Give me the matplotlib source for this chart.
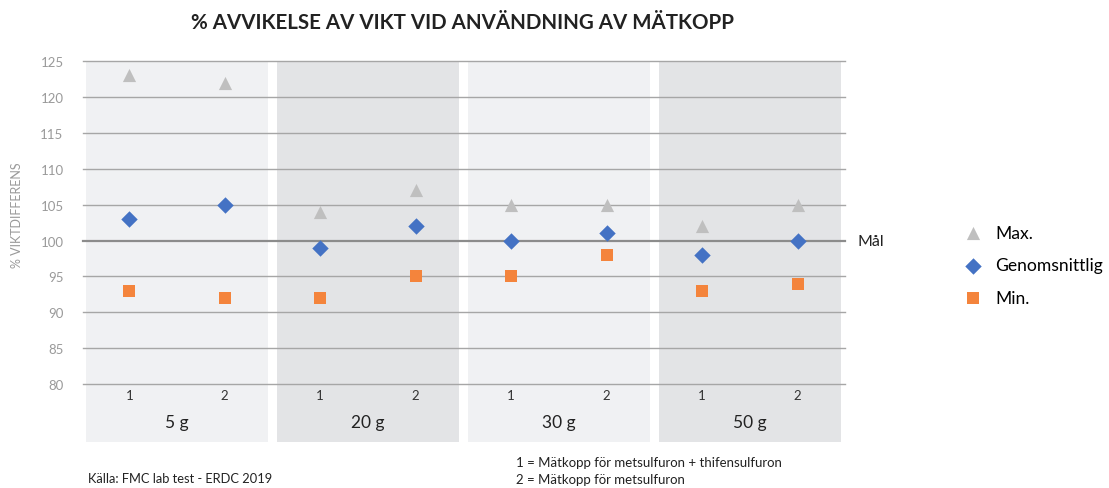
import matplotlib.pyplot as plt

groups = ['5 g', '20 g', '30 g', '50 g']
cups = ['1', '2']
max_vals = [123, 122, 104, 107, 105, 105, 102, 105]
avg_vals = [103, 105, 99, 102, 100, 101, 98, 100]
min_vals = [93, 92, 92, 95, 95, 98, 93, 94]
yticks = [80, 85, 90, 95, 100, 105, 110, 115, 120, 125]
target = 100

plt.rcParams['font.family'] = ['Lato', 'DejaVu Sans']

fig = plt.figure(figsize=(11.09, 4.89), dpi=100)
ax = fig.add_axes([0.0748, 0.0941, 0.687, 0.7791])

panel_w = 0.953
xs = []
for i, g in enumerate(groups):
    col = '#f0f1f3' if i % 2 == 0 else '#e3e4e6'
    ax.axvspan(i, i + panel_w, color=col, zorder=0, lw=0)
    c = i + panel_w / 2
    xs += [c - 0.25, c + 0.25]
    ax.text(c, 74.7, g, ha='center', va='center', fontsize=12.5, color='#222222')

for x, lab in zip(xs, cups * len(groups)):
    ax.text(x, 78.5, lab, ha='center', va='center', fontsize=9.5, color='#333333')

for y in yticks:
    if y == target:
        ax.axhline(y, color='#8c8c8c', lw=1.6, zorder=1, clip_on=False)
    else:
        ax.axhline(y, color='#a6a6a6', lw=1.0, zorder=1, clip_on=False)

ax.scatter(xs, max_vals, marker='^', s=90, color='#bfbfbf', zorder=3, label='Max.', linewidths=0)
ax.scatter(xs, avg_vals, marker='D', s=70, color='#4472c4', zorder=3, label='Genomsnittlig', linewidths=0)
ax.scatter(xs, min_vals, marker='s', s=75, color='#f4843c', zorder=3, label='Min.', linewidths=0)

ax.set_xlim(-0.016, 3.974)
ax.set_ylim(71.94, 125)
ax.set_yticks(yticks)
ax.set_xticks([])
ax.tick_params(axis='y', length=0, labelsize=9.5, labelcolor='#9a9a9a', pad=14)
for s in ax.spines.values():
    s.set_visible(False)

ax.text(4.04, target, 'Mål', ha='left', va='center', fontsize=11.5, color='#222222')

fig.text(0.0155, 0.56, '% VIKTDIFFERENS', rotation=90, ha='center', va='center',
         fontsize=9, color='#9a9a9a')
fig.text(0.417, 0.953, '% AVVIKELSE AV VIKT VID ANVÄNDNING AV MÄTKOPP', ha='center', va='center',
         fontsize=14.8, fontweight='bold', color='#222222')

fig.legend(loc='upper left', bbox_to_anchor=(0.855, 0.553), frameon=False, fontsize=12.6,
           handletextpad=0.3, labelspacing=0.95, borderaxespad=0, markerscale=1.0)

fig.text(0.079, 0.012, 'Källa: FMC lab test - ERDC 2019', fontsize=9.3, color='#222222')
fig.text(0.465, 0.045, '1 = Mätkopp för metsulfuron + thifensulfuron', fontsize=9.5, color='#222222')
fig.text(0.465, 0.01, '2 = Mätkopp för metsulfuron', fontsize=9.5, color='#222222')

fig.savefig('out.png', dpi=100)
